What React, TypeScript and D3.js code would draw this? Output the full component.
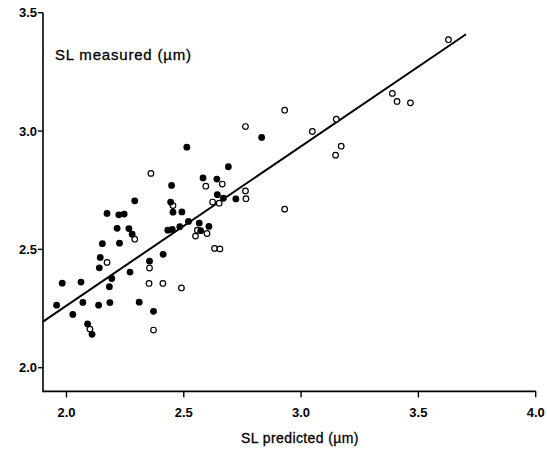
import React from "react";
import * as d3 from "d3";

// Filled circles: [predicted, measured]
const filledX = [1.958, 1.982, 2.027, 2.062, 2.070, 2.090, 2.109, 2.137, 2.140, 2.144, 2.153, 2.173, 2.183, 2.193, 2.185, 2.216, 2.226, 2.223, 2.246, 2.266, 2.280, 2.271, 2.291, 2.310, 2.354, 2.371, 2.412, 2.432, 2.451, 2.454, 2.444, 2.448, 2.492, 2.483, 2.513, 2.520, 2.566, 2.572, 2.607, 2.582, 2.641, 2.643, 2.669, 2.690, 2.722, 2.832];
const filledY = [2.264, 2.357, 2.225, 2.362, 2.276, 2.185, 2.141, 2.264, 2.422, 2.466, 2.524, 2.652, 2.342, 2.377, 2.275, 2.589, 2.526, 2.646, 2.649, 2.588, 2.564, 2.404, 2.705, 2.277, 2.450, 2.238, 2.479, 2.581, 2.584, 2.657, 2.700, 2.770, 2.658, 2.596, 2.932, 2.618, 2.611, 2.579, 2.597, 2.802, 2.797, 2.731, 2.716, 2.849, 2.713, 2.973];

// Open circles
const openX = [2.100, 2.173, 2.291, 2.354, 2.352, 2.371, 2.360, 2.411, 2.454, 2.490, 2.558, 2.550, 2.599, 2.594, 2.623, 2.651, 2.664, 2.631, 2.654, 2.763, 2.763, 2.765, 2.930, 2.930, 3.048, 3.150, 3.171, 3.147, 3.389, 3.409, 3.466, 3.628];
const openY = [2.163, 2.445, 2.543, 2.421, 2.356, 2.159, 2.821, 2.356, 2.685, 2.337, 2.581, 2.556, 2.567, 2.767, 2.700, 2.695, 2.776, 2.504, 2.502, 3.019, 2.747, 2.714, 2.670, 3.088, 2.998, 3.050, 2.936, 2.898, 3.159, 3.125, 3.119, 3.386];

// Regression line endpoints
const lineX = [1.9, 3.703];
const lineY = [2.195, 3.409];

const xTicks = [2.0, 2.5, 3.0, 3.5, 4.0];
const xTickLabels = ["2.0", "2.5", "3.0", "3.5", "4.0"];
const yTicks = [2.0, 2.5, 3.0, 3.5];
const yTickLabels = ["2.0", "2.5", "3.0", "3.5"];

const yTitle = "SL measured (µm)";
const xTitle = "SL predicted (µm)";

export default function App() {
  const x = d3.scaleLinear().domain([1.9, 4.0]).range([43, 535.7]);
  const y = d3.scaleLinear().domain([2.0, 3.5]).range([367.7, 12.7]);
  const y0 = y(1.9);
  const line = d3
    .line<number>()
    .x((d) => x(d))
    .y((_, i) => y(lineY[i]));
  const font = "Arial, 'Liberation Sans', Helvetica, sans-serif";
  return (
    <svg
      width={547}
      height={449}
      style={{ position: "absolute", left: 0, top: 0, background: "#fff" }}
    >
      {/* axes */}
      <line x1={x(1.9)} x2={x(1.9)} y1={y(3.5)} y2={y0 + 0.8} stroke="#000" strokeWidth={1.6} />
      <line x1={x(1.9)} x2={x(4.0)} y1={y0} y2={y0} stroke="#000" strokeWidth={1.6} />
      {yTicks.map((t, i) => (
        <g key={"yt" + i}>
          <line x1={x(1.9) - 5} x2={x(1.9)} y1={y(t)} y2={y(t)} stroke="#000" strokeWidth={1.4} />
          <text
            x={x(1.9) - 6}
            y={y(t)}
            dy="0.35em"
            textAnchor="end"
            fontFamily={font}
            fontWeight="bold"
            fontSize={13}
          >
            {yTickLabels[i]}
          </text>
        </g>
      ))}
      {xTicks.map((t, i) => (
        <g key={"xt" + i}>
          <line x1={x(t)} x2={x(t)} y1={y0} y2={y0 + 6} stroke="#000" strokeWidth={1.4} />
          <text
            x={x(t)}
            y={y0 + 21}
            dy="0.35em"
            textAnchor="middle"
            fontFamily={font}
            fontWeight="bold"
            fontSize={13}
          >
            {xTickLabels[i]}
          </text>
        </g>
      ))}
      <text x={55} y={55} dy="0.35em" fontFamily={font} fontSize={15} letterSpacing={0.8} stroke="#000" strokeWidth={0.3}>
        {yTitle}
      </text>
      <text x={300} y={438} dy="0.35em" textAnchor="middle" fontFamily={font} fontSize={14} letterSpacing={0.4} stroke="#000" strokeWidth={0.3}>
        {xTitle}
      </text>
      {/* regression line */}
      <path d={line(lineX) || ""} stroke="#000" strokeWidth={2} fill="none" />
      {/* points */}
      {openX.map((v, i) => (
        <circle
          key={"o" + i}
          cx={x(v)}
          cy={y(openY[i])}
          r={2.8}
          fill="#fff"
          stroke="#000"
          strokeWidth={1.2}
        />
      ))}
      {filledX.map((v, i) => (
        <circle key={"f" + i} cx={x(v)} cy={y(filledY[i])} r={3.4} fill="#000" />
      ))}
    </svg>
  );
}
